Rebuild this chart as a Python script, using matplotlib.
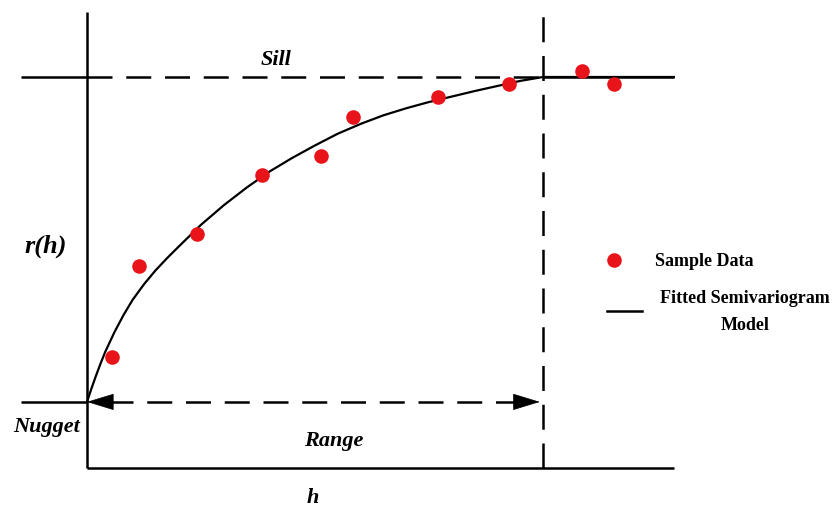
import matplotlib
matplotlib.use("Agg")
import matplotlib.pyplot as plt

# semivariogram values (lag h, gamma)
sample_h = [0.55, 1.14, 2.41, 3.84, 5.13, 5.83, 7.70, 9.25, 10.86, 11.56]
sample_g = [2.84, 5.17, 5.99, 7.49, 7.98, 8.98, 9.49, 9.82, 10.15, 9.82]

model_h = [0.0, 0.1, 0.2, 0.3, 0.4, 0.6, 0.8, 1.0, 1.25, 1.5, 1.75, 2.0,
           2.5, 3.0, 3.5, 4.0, 4.5, 5.0, 5.5, 6.0, 6.5, 7.0, 7.5, 8.0,
           8.5, 9.0, 9.5, 10.0, 12.87]
model_g = [1.69, 2.04, 2.37, 2.68, 2.97, 3.47, 3.91, 4.30, 4.70, 5.05, 5.36, 5.65,
           6.22, 6.72, 7.17, 7.58, 7.93, 8.25, 8.55, 8.80, 9.02, 9.20, 9.36, 9.50,
           9.64, 9.77, 9.90, 10.0, 10.0]

nugget = 1.69
sill = 10.0
rng = 10.0
h_max = 12.87
g_top = 11.66
left_end = -1.45

serif = "Liberation Serif"
dash = (0, (10, 5.5))
lw_ax = 1.8

fig = plt.figure(figsize=(8.33, 5.10), dpi=100)
ax = fig.add_axes([0, 0, 1, 1])
ax.set_xlim(-1.908, 16.36)
ax.set_ylim(-1.049, 11.995)
ax.axis("off")

# frame: y axis and h axis
ax.plot([0, 0], [0, g_top], color="black", lw=lw_ax, solid_capstyle="butt")
ax.plot([0, h_max], [0, 0], color="black", lw=lw_ax, solid_capstyle="butt")

# sill line
ax.plot([left_end, 0], [sill, sill], color="black", lw=lw_ax, solid_capstyle="butt")
ax.plot([0, rng], [sill, sill], color="black", lw=lw_ax, linestyle=dash)
ax.plot([rng, h_max], [sill, sill], color="black", lw=lw_ax, solid_capstyle="butt")

# range line
ax.plot([rng, rng], [0, g_top], color="black", lw=lw_ax, linestyle=dash)

# nugget line + range arrow
ax.plot([left_end, 0], [nugget, nugget], color="black", lw=lw_ax, solid_capstyle="butt")
ax.plot([0.45, rng - 0.45], [nugget, nugget], color="black", lw=lw_ax, linestyle=dash)
for tip, base in [(0, 0.57), (rng - 0.07, rng - 0.57)]:
    ax.annotate("", xy=(tip, nugget), xytext=(base, nugget),
                arrowprops=dict(arrowstyle="-|>,head_length=1.8,head_width=0.55",
                                color="black", lw=0.5, shrinkA=0, shrinkB=0))

# model and samples
ax.plot(model_h, model_g, color="black", lw=1.6, zorder=3)
ax.plot(sample_h, sample_g, "o", color="#e8141a", ms=10.5, mec="none", zorder=4)

# labels
txt = dict(family=serif, weight="bold", style="italic", ha="center", va="center")
ax.text(4.15, 10.45, "Sill", fontsize=16, **txt)
ax.text(-0.90, 5.70, "r(h)", fontsize=19, **txt)
ax.text(-0.88, 1.08, "Nugget", fontsize=16, **txt)
ax.text(5.40, 0.72, "Range", fontsize=16, **txt)
ax.text(4.96, -0.74, "h", fontsize=16, **txt)

# legend
ax.plot([11.55], [5.31], "o", color="#e8141a", ms=10.5, mec="none")
ax.text(12.45, 5.31, "Sample Data", family=serif, weight="bold", fontsize=13,
        ha="left", va="center")
ax.plot([11.4, 12.17], [4.01, 4.01], color="black", lw=1.8)
ax.text(14.43, 4.35, "Fitted Semivariogram", family=serif, weight="bold",
        fontsize=13, ha="center", va="center")
ax.text(14.43, 3.68, "Model", family=serif, weight="bold", fontsize=13,
        ha="center", va="center")

fig.savefig("out.png", dpi=100)
